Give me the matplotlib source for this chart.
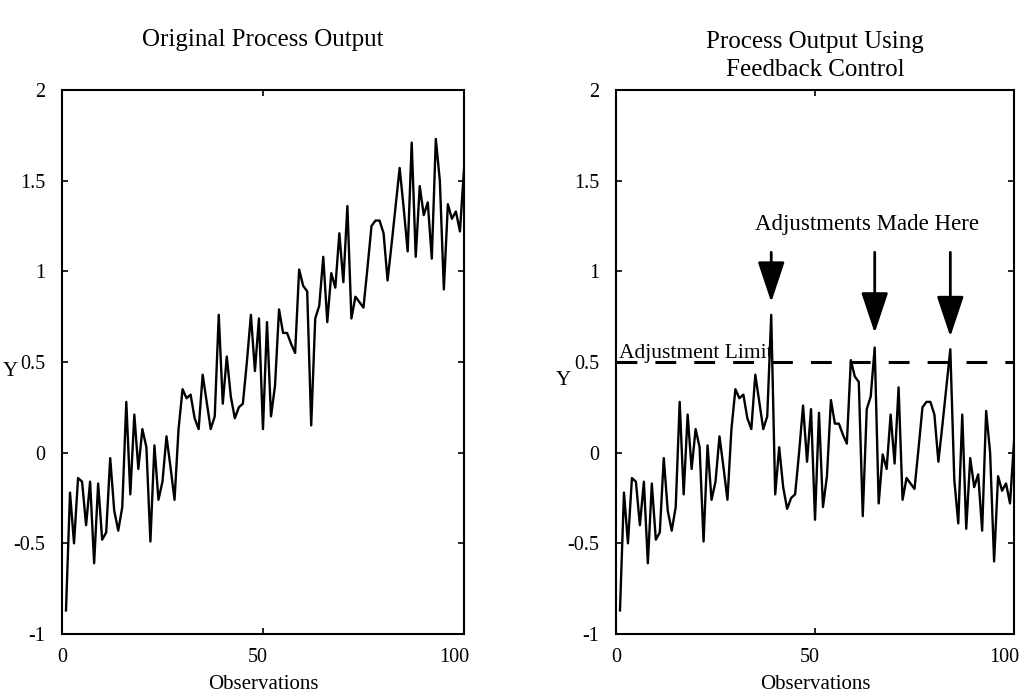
import matplotlib
matplotlib.use("Agg")
import numpy as np
import matplotlib.pyplot as plt
from matplotlib.transforms import ScaledTranslation

plt.rcParams['font.family'] = ['Liberation Serif', 'DejaVu Serif']
plt.rcParams['lines.scale_dashes'] = False

# observations 1..100
obs = list(range(1, 101))
original = [
    -0.87, -0.22, -0.50, -0.14, -0.16, -0.40, -0.16, -0.61, -0.17, -0.48,
    -0.44, -0.03, -0.32, -0.43, -0.30, 0.28, -0.23, 0.21, -0.09, 0.13,
    0.03, -0.49, 0.04, -0.26, -0.16, 0.09, -0.08, -0.26, 0.13, 0.35,
    0.30, 0.32, 0.19, 0.13, 0.43, 0.28, 0.13, 0.20, 0.76, 0.27,
    0.53, 0.31, 0.19, 0.25, 0.27, 0.50, 0.76, 0.45, 0.74, 0.13,
    0.72, 0.20, 0.37, 0.79, 0.66, 0.66, 0.60, 0.55, 1.01, 0.92,
    0.89, 0.15, 0.74, 0.81, 1.08, 0.72, 0.99, 0.91, 1.21, 0.94,
    1.36, 0.74, 0.86, 0.83, 0.80, 1.02, 1.25, 1.28, 1.28, 1.21,
    0.95, 1.15, 1.36, 1.57, 1.35, 1.11, 1.71, 1.08, 1.47, 1.31,
    1.38, 1.07, 1.73, 1.50, 0.90, 1.37, 1.29, 1.33, 1.22, 1.56,
]

# feedback: adjustments made after these observations
adjust_obs = [39, 65, 84]
adjust_size = [0.5, 0.5, 0.5]
arrow_tips = [0.83, 0.66, 0.64]
limit = 0.5

controlled = []
for t, v in zip(obs, original):
    shift = sum(s for a, s in zip(adjust_obs, adjust_size) if t > a)
    controlled.append(v - shift)

yticks = [-1, -0.5, 0, 0.5, 1, 1.5, 2]
ylabels = ['-1', '-0.5', '0', '0.5', '1', '1.5', '2']
xticks = [0, 50, 100]
xlabel_shift = [0, -5, -10]  # px, labels sit a little left of their ticks

fig = plt.figure(figsize=(10.26, 6.96), dpi=100)
ax1 = fig.add_axes([0.0604, 0.0891, 0.3918, 0.7816])
ax2 = fig.add_axes([0.6004, 0.0891, 0.3879, 0.7816])

for ax, series in [(ax1, original), (ax2, controlled)]:
    ax.plot(obs, series, color='k', lw=1.7, zorder=3)
    ax.set_xlim(0, 100)
    ax.set_ylim(-1, 2)
    ax.set_yticks(yticks)
    ax.set_yticklabels(ylabels)
    ax.set_xticks(xticks)
    ax.tick_params(direction='in', length=4, width=1.2, labelsize=14.5,
                   top=True, right=True)
    ax.tick_params(axis='y', pad=12)
    ax.tick_params(axis='x', pad=10)
    for lab, dx in zip(ax.get_xticklabels(), xlabel_shift):
        lab.set_transform(lab.get_transform() +
                          ScaledTranslation(dx / 100, 0, fig.dpi_scale_trans))
    for sp in ax.spines.values():
        sp.set_linewidth(1.5)
    ax.set_xlabel('Observations', fontsize=15, labelpad=6)

fig.text(10 / 1026, 1 - 372 / 696, 'Y', fontsize=15, ha='center', va='center')
fig.text(563 / 1026, 1 - 380 / 696, 'Y', fontsize=15, ha='center', va='center')

fig.text(263 / 1026, 1 - 40 / 696, 'Original Process Output', fontsize=18,
         ha='center', va='center')
fig.text(815 / 1026, 1 - 56 / 696, 'Process Output Using\nFeedback Control',
         fontsize=18, ha='center', va='center', linespacing=1.35)

# adjustment limit
ax2.plot([0, 100], [limit, limit], color='k', lw=2.2, dashes=(15, 13), zorder=2)
ax2.text(0.8, 0.52, 'Adjustment Limit', fontsize=15.5, ha='left', va='baseline',
         zorder=1)

# arrows
for a, tip in zip(adjust_obs, arrow_tips):
    ax2.annotate('', xy=(a, tip), xytext=(a, 1.105),
                 arrowprops=dict(arrowstyle='-|>,head_length=1.8,head_width=0.6',
                                 mutation_scale=14, lw=2, color='k',
                                 shrinkA=0, shrinkB=0))
ax2.text(63, 1.26, 'Adjustments Made Here', fontsize=16.5, ha='center',
         va='center')

fig.savefig('out.png', dpi=100, facecolor='white')
